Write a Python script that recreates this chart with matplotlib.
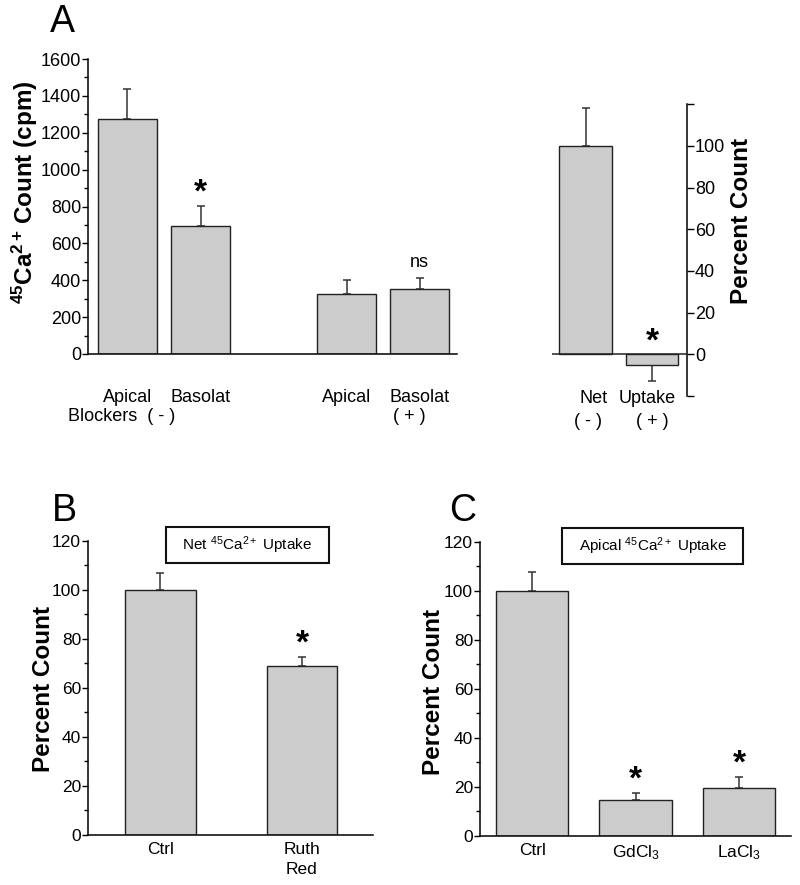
import matplotlib
matplotlib.use('Agg')
import matplotlib.pyplot as plt
import numpy as np
from matplotlib.patches import Rectangle

plt.rcParams['font.family'] = 'Liberation Sans'
plt.rcParams['mathtext.fontset'] = 'custom'
plt.rcParams['mathtext.rm'] = 'Liberation Sans'
plt.rcParams['mathtext.bf'] = 'Liberation Sans:bold'
plt.rcParams['mathtext.it'] = 'Liberation Sans:italic'
plt.rcParams['axes.linewidth'] = 1.1

# panel A, counts (cpm), blockers - / +
a_labels = ['Apical', 'Basolat', 'Apical', 'Basolat']
a_counts = [1275, 695, 325, 355]
a_sem = [165, 110, 75, 57]
a_marks = ['', '*', '', 'ns']

# panel A, net uptake (percent)
net_labels = ['Net', 'Uptake']
net_pct = [100, -5]
net_sem = [18, 8]
net_marks = ['', '*']

# panel B
b_labels = ['Ctrl', 'Ruth\nRed']
b_pct = [100, 69]
b_sem = [7, 3.5]
b_marks = ['', '*']

# panel C
c_labels = ['Ctrl', r'GdCl$_3$', r'LaCl$_3$']
c_pct = [100, 14.5, 19.5]
c_sem = [7.5, 3, 4.5]
c_marks = ['', '*', '*']

W, H = 800, 885
fig = plt.figure(figsize=(8, 8.85), dpi=100)

BAR = '#cccccc'
EDGE = '#222222'
ERR = '#333333'


def axes_px(x0, y0, x1, y1):
    return fig.add_axes([x0 / W, 1 - y1 / H, (x1 - x0) / W, (y1 - y0) / H])


def bars(ax, pos, vals, sem, width):
    vals = np.asarray(vals, dtype=float)
    sem = np.asarray(sem, dtype=float)
    ax.bar(pos, vals, width, color=BAR, edgecolor=EDGE, linewidth=1, zorder=2)
    lower = np.where(vals < 0, sem, 0)
    upper = np.where(vals < 0, 0, sem)
    ax.errorbar(pos, vals, yerr=[lower, upper], fmt='none', ecolor=ERR,
                elinewidth=1.1, capsize=3, capthick=1.1, zorder=1)


def marks(ax, pos, vals, sem, labels):
    for x, v, s, t in zip(pos, vals, sem, labels):
        if not t:
            continue
        top = v + s if v >= 0 else 0
        if t == '*':
            ax.annotate(t, (x, top), xytext=(0, -2), textcoords='offset points',
                        ha='center', va='bottom', fontsize=24, fontweight='bold')
        else:
            ax.annotate(t, (x, top), xytext=(0, 5), textcoords='offset points',
                        ha='center', va='bottom', fontsize=13)


def left_axis(ax):
    for s in ['top', 'right']:
        ax.spines[s].set_visible(False)
    ax.tick_params(axis='y', direction='out', length=4, width=1, labelsize=13, pad=1)
    ax.tick_params(axis='y', which='minor', direction='out', length=3, width=1)
    ax.tick_params(axis='x', length=0)


# ---- A left
axA = axes_px(88, 59, 457, 354)
posA = [0, 1, 3, 4]
bars(axA, posA, a_counts, a_sem, 0.81)
marks(axA, posA, a_counts, a_sem, a_marks)
axA.set_xlim(-0.54, 4.51)
axA.set_ylim(0, 1600)
axA.set_yticks(np.arange(0, 1601, 200))
axA.set_yticks(np.arange(0, 1601, 100), minor=True)
left_axis(axA)
axA.set_xticks([])
for x, t in zip(posA, a_labels):
    axA.text(x, (354 - 398) / 295, t, transform=axA.get_xaxis_transform(),
             ha='center', va='center', fontsize=13)

# ---- A right
axN = axes_px(551.7, 104.3, 686.7, 396)
posN = [0, 1]
bars(axN, posN, net_pct, net_sem, 0.79)
marks(axN, posN, net_pct, net_sem, net_marks)
axN.axhline(0, color='#222222', lw=1.1, zorder=3)
axN.set_xlim(-0.51, 1.52)
axN.set_ylim(-20, 120)
for s in ['top', 'left', 'bottom']:
    axN.spines[s].set_visible(False)
axN.yaxis.tick_right()
ticksN = np.arange(-20, 121, 20)
axN.set_yticks(ticksN)
axN.set_yticklabels([str(t) if 0 <= t <= 100 else '' for t in ticksN])
axN.tick_params(axis='y', direction='out', length=5, width=1, labelsize=13, pad=1)
axN.set_xticks([])
for x, t, dx in zip(posN, net_labels, [0.12, -0.07]):
    axN.text(x + dx, (396 - 398) / 291.7, t, transform=axN.get_xaxis_transform(),
             ha='center', va='center', fontsize=13)

# ---- B
axB = axes_px(88, 540.7, 372.7, 835)
posB = [0, 1]
bars(axB, posB, b_pct, b_sem, 0.5)
marks(axB, posB, b_pct, b_sem, b_marks)
axB.set_xlim(-0.512, 1.5)
axB.set_ylim(0, 120)
axB.set_yticks(np.arange(0, 121, 20))
axB.set_yticks(np.arange(0, 121, 10), minor=True)
left_axis(axB)
axB.set_xticks(posB)
axB.set_xticklabels(b_labels, fontsize=12.5, linespacing=1.4)
axB.tick_params(axis='x', pad=5)
axB.tick_params(axis='y', labelsize=12.5)

# ---- C
axC = axes_px(480, 541.7, 790.7, 836)
posC = [0, 1, 2]
bars(axC, posC, c_pct, c_sem, 0.70)
marks(axC, posC, c_pct, c_sem, c_marks)
axC.set_xlim(-0.504, 2.5)
axC.set_ylim(0, 120)
axC.set_yticks(np.arange(0, 121, 20))
axC.set_yticks(np.arange(0, 121, 10), minor=True)
left_axis(axC)
axC.set_xticks(posC)
axC.set_xticklabels(c_labels, fontsize=12.5)
axC.tick_params(axis='x', pad=5)
axC.tick_params(axis='y', labelsize=12.5)

# boxes with titles
for ax, txt, (x0, x1) in [(axB, r'Net $^{45}$Ca$^{2+}$ Uptake', (0.273, 0.8465)),
                         (axC, r'Apical $^{45}$Ca$^{2+}$ Uptake', (0.263, 0.8475))]:
    ax.add_patch(Rectangle((x0, 0.923), x1 - x0, 0.1225, transform=ax.transAxes,
                           fill=False, edgecolor='#111111', lw=1.5, clip_on=False))
    ax.text((x0 + x1) / 2, 0.984, txt, transform=ax.transAxes, ha='center',
            va='center', fontsize=11)

# axis titles
fig.text(25 / W, 1 - 192 / H, r'$\mathbf{^{45}Ca^{2+}\,}$Count (cpm)', rotation=90,
         ha='center', va='center', fontsize=17.5, fontweight='bold')
fig.text(741 / W, 1 - 221 / H, 'Percent Count', rotation=90,
         ha='center', va='center', fontsize=17.5, fontweight='bold')
fig.text(44 / W, 1 - 689 / H, 'Percent Count', rotation=90,
         ha='center', va='center', fontsize=17.5, fontweight='bold')
fig.text(434 / W, 1 - 692 / H, 'Percent Count', rotation=90,
         ha='center', va='center', fontsize=17.5, fontweight='bold')

# blocker rows
fig.text(68 / W, 1 - 416 / H, 'Blockers  ( - )', ha='left', va='center', fontsize=13)
fig.text(409 / W, 1 - 416 / H, '( + )', ha='center', va='center', fontsize=13)
fig.text(587.5 / W, 1 - 421 / H, '( - )', ha='center', va='center', fontsize=13)
fig.text(652.5 / W, 1 - 421 / H, '( + )', ha='center', va='center', fontsize=13)

# panel letters
for t, x, y in [('A', 62, 22), ('B', 64, 511), ('C', 463, 511)]:
    fig.text(x / W, 1 - y / H, t, ha='center', va='center', fontsize=27)

fig.savefig('out.png', dpi=100)
